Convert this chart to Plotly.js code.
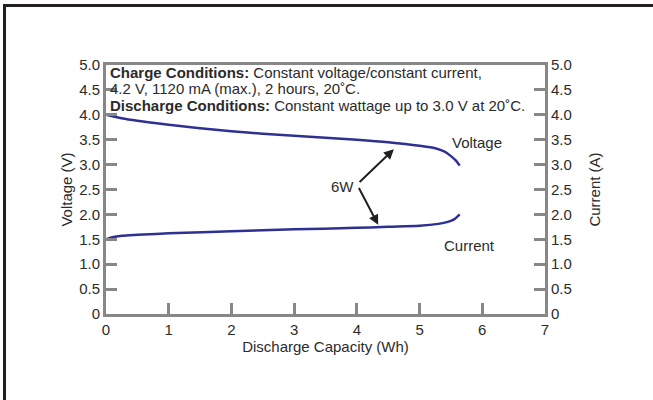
<!DOCTYPE html>
<html>
<head>
<meta charset="utf-8">
<script src="https://cdn.plot.ly/plotly-3.0.1.min.js"></script>
<style>
html,body{margin:0;padding:0;background:#fff;}
#wrap{position:relative;width:653px;height:400px;}
#chart{width:653px;height:400px;}
#frame{position:absolute;left:3px;top:4px;width:650px;height:396px;border-top:3px solid #231f20;border-left:3px solid #231f20;box-sizing:border-box;pointer-events:none;}
</style>
</head>
<body>
<div id="wrap"><div id="chart"></div><div id="frame"></div></div>
<script>
// Voltage curve (Wh vs V)
const voltageX = [0, 0.25, 0.5, 1.0, 1.5, 2.0, 2.5, 3.0, 3.5, 4.0, 4.5, 5.0, 5.25, 5.4, 5.5, 5.58, 5.64];
const voltageY = [4.0, 3.93, 3.88, 3.80, 3.73, 3.67, 3.62, 3.58, 3.54, 3.50, 3.45, 3.38, 3.33, 3.26, 3.17, 3.08, 2.98];
// Current curve (Wh vs A)
const currentX = [0, 0.1, 0.25, 0.5, 1, 2, 3, 4, 4.5, 5, 5.3, 5.45, 5.55, 5.64];
const currentY = [1.50, 1.54, 1.57, 1.59, 1.62, 1.66, 1.70, 1.73, 1.75, 1.77, 1.81, 1.85, 1.90, 2.00];
// Tick values / labels
const xTicks = [0, 1, 2, 3, 4, 5, 6, 7];
const yTickVals = [0, 0.5, 1.0, 1.5, 2.0, 2.5, 3.0, 3.5, 4.0, 4.5, 5.0];
const yTickText = ["0", "0.5", "1.0", "1.5", "2.0", "2.5", "3.0", "3.5", "4.0", "4.5", "5.0"];

const lineColor = '#2e3192';
const axisColor = '#878787';
const textColor = '#2b2b2b';
const fnt = {family: 'Liberation Sans, Arial, sans-serif', size: 15, color: textColor};

const traces = [
  {x: voltageX, y: voltageY, mode: 'lines', line: {color: lineColor, width: 2.5, shape: 'spline', smoothing: 0.8}, hoverinfo: 'skip', showlegend: false},
  {x: currentX, y: currentY, mode: 'lines', line: {color: lineColor, width: 2.5, shape: 'spline', smoothing: 0.8}, hoverinfo: 'skip', showlegend: false},
  {x: [0], y: [0], yaxis: 'y2', mode: 'markers', marker: {opacity: 0}, hoverinfo: 'skip', showlegend: false}
];

const axisCommon = {
  showgrid: false, zeroline: false, showline: true, linecolor: axisColor, linewidth: 3,
  ticks: 'inside', ticklen: 11, tickwidth: 3, tickcolor: axisColor, tickfont: fnt
};

const layout = {
  width: 653, height: 400,
  margin: {l: 106, r: 108, t: 65, b: 86},
  paper_bgcolor: '#fff', plot_bgcolor: '#fff',
  font: fnt,
  xaxis: Object.assign({}, axisCommon, {
    range: [0, 7], tickvals: xTicks, ticktext: xTicks.map(String), mirror: true,
    title: {text: 'Discharge Capacity (Wh)', font: fnt, standoff: 1}
  }),
  yaxis: Object.assign({}, axisCommon, {
    range: [0, 5], tickvals: yTickVals, ticktext: yTickText, mirror: true,
    title: {text: 'Voltage (V)', font: fnt, standoff: 3}
  }),
  yaxis2: Object.assign({}, axisCommon, {
    range: [0, 5], tickvals: yTickVals, ticktext: yTickText, overlaying: 'y', side: 'right',
    title: {text: 'Current (A)', font: fnt, standoff: 19}
  }),
  annotations: [
    {xref: 'paper', yref: 'y', x: 0, y: 4.84, xshift: 2, xanchor: 'left', yanchor: 'middle', showarrow: false, font: fnt,
     text: '<b>Charge Conditions:</b> Constant voltage/constant current,'},
    {xref: 'paper', yref: 'y', x: 0, y: 4.53, xshift: 2, xanchor: 'left', yanchor: 'middle', showarrow: false, font: fnt,
     text: '4.2 V, 1120 mA (max.), 2 hours, 20˚C.'},
    {xref: 'paper', yref: 'y', x: 0, y: 4.19, xshift: 2, xanchor: 'left', yanchor: 'middle', showarrow: false, font: fnt,
     text: '<b>Discharge Conditions:</b> Constant wattage up to 3.0 V at 20˚C.'},
    {x: 5.92, y: 3.45, text: 'Voltage', showarrow: false, font: fnt},
    {x: 5.80, y: 1.37, text: 'Current', showarrow: false, font: fnt},
    {x: 3.77, y: 2.57, text: '6W', showarrow: false, font: fnt},
    {x: 4.59, y: 3.31, ax: 4.02, ay: 2.62, axref: 'x', ayref: 'y', text: '', showarrow: true,
     arrowhead: 2, arrowsize: 1, arrowwidth: 2, arrowcolor: '#231f20'},
    {x: 4.34, y: 1.79, ax: 4.02, ay: 2.56, axref: 'x', ayref: 'y', text: '', showarrow: true,
     arrowhead: 2, arrowsize: 1, arrowwidth: 2, arrowcolor: '#231f20'}
  ]
};

Plotly.newPlot('chart', traces, layout, {displayModeBar: false, staticPlot: true});
</script>
</body>
</html>
